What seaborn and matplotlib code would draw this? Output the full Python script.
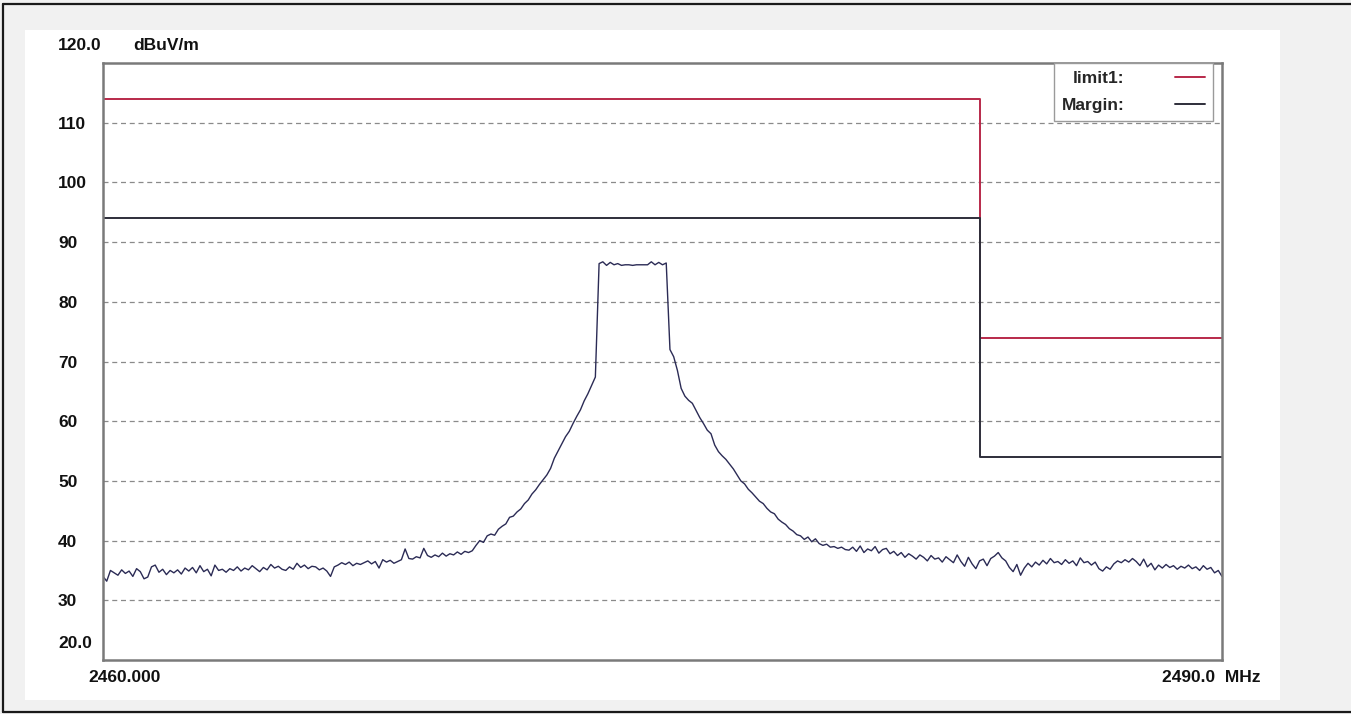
import numpy as np
import pandas as pd
import matplotlib
matplotlib.use("Agg")
import matplotlib.pyplot as plt
from matplotlib.lines import Line2D
from matplotlib.patches import Rectangle
import seaborn as sns

# sweep 2460.0 .. 2490.0 MHz, 0.1 MHz step
f_start, f_stop, f_step = 2460.0, 2490.0, 0.1

# trace readings (dBuV/m), left to right
noise_low = [
    34.0, 33.2, 35.0, 34.6, 34.2, 35.1, 34.5, 34.9, 34.0, 35.3,
    34.8, 33.6, 33.9, 35.6, 35.9, 34.7, 35.2, 34.3, 35.0, 34.6,
    35.1, 34.4, 35.4, 34.9, 35.5, 34.6, 35.8, 34.8, 35.2, 34.1,
    35.9, 35.0, 35.2, 34.7, 35.3, 35.0, 35.6, 34.9, 35.4, 35.1,
    35.8, 35.3, 34.8, 35.5, 35.1, 36.0, 35.4, 35.7, 35.2, 35.0,
    35.6, 35.2, 36.2, 35.5, 35.9, 35.3, 35.7, 35.6, 35.1, 35.4,
    34.9, 34.0, 35.6, 35.9, 36.3, 36.0, 36.4, 35.8, 36.2, 36.0,
    36.3, 36.6, 36.1, 36.5, 35.4, 36.8, 36.4, 36.7, 36.2, 36.5,
    36.8, 38.6, 37.0, 36.9, 37.3, 37.1, 38.7, 37.5, 37.2, 37.6,
    37.3, 37.9, 37.4, 37.8, 37.6, 38.1, 37.7, 38.2, 38.0, 38.3,
]
rise_left = [
    39.2, 40.0, 39.7, 40.8, 41.1, 40.9, 41.9, 42.4, 42.8, 43.9,
    44.1, 44.8, 45.3, 46.2, 46.8, 47.8, 48.5, 49.4, 50.2, 51.0,
    52.1, 53.8, 55.0, 56.2, 57.4, 58.3, 59.6, 60.8, 61.9, 63.4,
    64.6, 66.0, 67.4,
]
top_band = [
    86.4, 86.7, 86.1, 86.6, 86.2, 86.4, 86.1, 86.2, 86.2, 86.1,
    86.2, 86.2, 86.2, 86.2, 86.7, 86.2, 86.6, 86.2, 86.5,
]
fall_right = [
    72.0, 70.8, 68.5, 65.5, 64.2, 63.5, 63.0, 61.8, 60.6, 59.6,
    58.5, 57.9, 56.0, 54.9, 54.2, 53.6, 52.8, 52.0, 51.0, 50.0,
    49.5, 48.6, 48.0, 47.3, 46.6, 46.2, 45.4, 44.8, 44.5, 43.6,
    43.1, 42.7, 42.0, 41.6, 41.0, 40.8, 40.2, 40.6, 39.8, 40.3,
    39.5, 39.2, 39.4, 38.9, 39.0, 38.7, 38.9, 38.5,
]
noise_high = [
    38.4, 38.9, 38.2, 39.1, 38.0, 38.6, 38.3, 39.0, 37.9, 38.5,
    38.7, 37.8, 38.2, 37.5, 38.0, 37.2, 37.8, 37.4, 36.9, 37.6,
    37.2, 36.6, 37.5, 36.9, 37.1, 36.4, 37.3, 36.8, 36.3, 37.6,
    36.5, 35.7, 37.2, 36.1, 35.3, 36.6, 36.9, 35.8, 37.0, 37.4,
    38.0, 37.1, 36.6, 35.5, 34.8, 36.0, 34.2, 35.4, 36.2, 35.6,
    36.4, 35.9, 36.7, 36.1, 37.0, 36.3, 36.5, 36.0, 36.8, 36.2,
    36.6, 35.8, 37.1, 36.3, 36.5, 35.9, 36.4, 35.3, 34.9, 35.6,
    35.2, 36.1, 36.6, 36.3, 36.8, 36.4, 37.0, 36.5, 35.8, 36.9,
    35.6, 36.2, 35.1, 35.9, 35.4, 36.0, 35.5, 35.8, 35.2, 35.7,
    35.4, 35.9, 35.3, 35.6, 35.0, 35.8, 35.2, 35.5, 34.6, 35.0,
    34.0,
]

# limit and margin lines (restricted band edge at 2483.5 MHz)
limit_freq = [2460.0, 2483.5, 2483.5, 2490.0]
limit_level = [114.0, 114.0, 74.0, 74.0]
margin_freq = [2460.0, 2483.5, 2483.5, 2490.0]
margin_level = [94.0, 94.0, 54.0, 54.0]

y_grid = [110, 100, 90, 80, 70, 60, 50, 40, 30]

level = np.array(noise_low + rise_left + top_band + fall_right + noise_high)
freq = np.round(f_start + f_step * np.arange(len(level)), 1)
trace = pd.DataFrame({"freq": freq, "level": level})
limit = pd.DataFrame({"freq": limit_freq, "level": limit_level})
margin = pd.DataFrame({"freq": margin_freq, "level": margin_level})

sns.set_theme(style="white")
plt.rcParams["font.family"] = ["Liberation Sans", "DejaVu Sans"]
W, H = 1351, 714
fig = plt.figure(figsize=(W / 100, H / 100), dpi=100, facecolor="#f1f1f1")

# screenshot panel + frame
fig.add_artist(Rectangle((25 / W, 1 - 700 / H), 1255 / W, 670 / H,
                         transform=fig.transFigure, facecolor="white",
                         edgecolor="none", zorder=-5))
for xs, ys in [([3, W], [4, 4]), ([3, 3], [4, 712]), ([3, W], [712, 712])]:
    fig.add_artist(Line2D([x / W for x in xs], [1 - y / H for y in ys],
                          transform=fig.transFigure, color="#1a1a1a", lw=1.6))

ax = fig.add_axes([103 / W, 1 - 660 / H, 1119 / W, 597 / H])
ax.set_facecolor("white")

red = "#b8294a"
dark = "#2e2e3a"
sns.lineplot(data=limit, x="freq", y="level", ax=ax, sort=False, estimator=None,
             color=red, lw=1.4, label="limit1:")
sns.lineplot(data=margin, x="freq", y="level", ax=ax, sort=False, estimator=None,
             color=dark, lw=1.4, label="Margin:")
sns.lineplot(data=trace, x="freq", y="level", ax=ax, sort=False, estimator=None,
             color="#2b2b55", lw=1.0, legend=False)

ax.set_xlim(f_start, f_stop)
ax.set_ylim(20, 120)
for g in y_grid:
    ax.axhline(g, color="#8a8a8a", lw=0.9, ls=(0, (4, 3)), zorder=0)

ax.set_xticks([])
ax.set_yticks(y_grid)
ax.set_yticklabels([str(v) for v in y_grid], fontsize=12.5, fontweight="bold",
                   ha="left", color="#111111")
ax.tick_params(axis="y", length=0, pad=32.4)
ax.set_xlabel("")
ax.set_ylabel("")
for s in ax.spines.values():
    s.set_color("#7a7a7a")
    s.set_linewidth(1.8)

txt = dict(fontsize=12.5, fontweight="bold", color="#111111", va="center")
fig.text(58 / W, 1 - 45 / H, "120.0", ha="left", **txt)
fig.text(133 / W, 1 - 45 / H, "dBuV/m", ha="left", **txt)
fig.text(58 / W, 1 - 643 / H, "20.0", ha="left", **txt)
fig.text(88 / W, 1 - 677 / H, "2460.000", ha="left", **txt)
fig.text(1162 / W, 1 - 677 / H, "2490.0  MHz", ha="left", **txt)

leg = ax.legend(loc="upper right", bbox_to_anchor=((1213 - 103) / 1119, 1.0),
                borderaxespad=0, markerfirst=False, fancybox=False,
                frameon=True, handlelength=1.75, handletextpad=2.9,
                labelspacing=0.7, borderpad=0.45,
                prop={"size": 12.5, "weight": "bold"})
leg.get_frame().set_edgecolor("#9a9a9a")
leg.get_frame().set_linewidth(1.0)
leg.get_frame().set_alpha(1)

fig.savefig("out.png", dpi=100, facecolor=fig.get_facecolor())
